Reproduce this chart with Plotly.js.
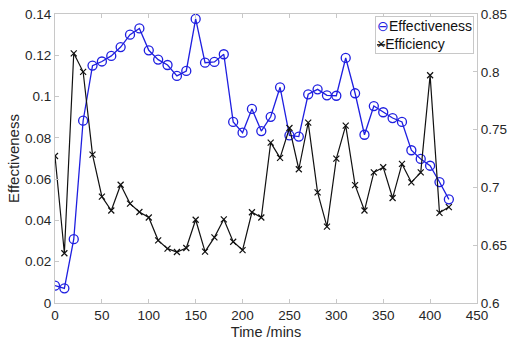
<!DOCTYPE html>
<html>
<head>
<meta charset="utf-8">
<script src="https://cdn.plot.ly/plotly-3.0.1.min.js"></script>
<style>html,body{margin:0;padding:0;background:#fff;}#chart{width:508px;height:344px;}</style>
</head>
<body>
<div id="chart"></div>
<script>
const timeMins = [0,10,20,30,40,50,60,70,80,90,100,110,120,130,140,150,160,170,180,190,200,210,220,230,240,250,260,270,280,290,300,310,320,330,340,350,360,370,380,390,400,410,420];
const effectiveness = [0.0084,0.0071,0.0309,0.0883,0.115,0.117,0.1197,0.124,0.130,0.133,0.1224,0.1179,0.1153,0.110,0.1124,0.1376,0.1164,0.1168,0.1205,0.0877,0.0825,0.094,0.0833,0.0902,0.1045,0.0812,0.0806,0.1011,0.1035,0.1006,0.1004,0.1187,0.1016,0.0815,0.0954,0.0924,0.0896,0.0877,0.074,0.0698,0.0665,0.0586,0.0502];
const efficiency = [0.7272,0.643,0.816,0.800,0.7283,0.692,0.680,0.7023,0.686,0.6787,0.674,0.6542,0.647,0.6441,0.6476,0.672,0.6444,0.6568,0.6724,0.653,0.6458,0.6785,0.674,0.7387,0.7256,0.7514,0.7157,0.756,0.6957,0.666,0.7249,0.7534,0.702,0.680,0.713,0.7174,0.6908,0.7203,0.7044,0.713,0.797,0.678,0.683];
const seriesNames = ["Effectiveness","Efficiency"];
const blue = "#1f1fe0", black = "#111";

const font = {family:"Liberation Sans, Arial, sans-serif", size:13.5, color:"#262626"};
const axisCommon = {showline:true, linecolor:"#c8c8c8", linewidth:1, ticks:"inside", ticklen:4, tickcolor:"#c8c8c8", showgrid:false, zeroline:false, tickfont:font};

const traces = [
  {x:timeMins, y:effectiveness, name:seriesNames[0], type:"scatter", mode:"lines+markers", showlegend:false,
   line:{color:blue, width:1.3}, marker:{symbol:"circle-open", size:9, color:blue, line:{width:1.3}}},
  {x:timeMins, y:efficiency, name:seriesNames[1], type:"scatter", mode:"lines+markers", yaxis:"y2", showlegend:false,
   line:{color:black, width:1.2}, marker:{symbol:"x-thin-open", size:6, color:black, line:{width:1.2, color:black}}}
];

const legendText = "<span style='color:" + blue + "'>⊖</span>" + seriesNames[0] +
                   "<br><span style='color:" + black + "'><s>×</s></span>" + seriesNames[1];

const layout = {
  width:508, height:344,
  margin:{l:55, r:31, t:14, b:41},
  paper_bgcolor:"#fff", plot_bgcolor:"#fff",
  font:font,
  showlegend:false,
  annotations:[{xref:"paper", yref:"paper", x:1, y:1, xanchor:"right", yanchor:"top", xshift:-3, yshift:-2,
    text:legendText, showarrow:false, align:"left", bgcolor:"#fff", bordercolor:"#c8c8c8", borderwidth:1, borderpad:1,
    font:{family:"Liberation Sans, Arial, sans-serif", size:14, color:"#111"}}],
  xaxis:Object.assign({}, axisCommon, {range:[0,450], dtick:50, tick0:0, mirror:"ticks",
         title:{text:"Time /mins", font:{family:"Liberation Sans, Arial, sans-serif", size:14.5, color:"#262626"}, standoff:4}}),
  yaxis:Object.assign({}, axisCommon, {range:[0,0.14], dtick:0.02, tick0:0,
         title:{text:"Effectiveness", font:{family:"Liberation Sans, Arial, sans-serif", size:15, color:"#262626"}, standoff:1}}),
  yaxis2:Object.assign({}, axisCommon, {range:[0.6,0.85], dtick:0.05, tick0:0.6, overlaying:"y", side:"right"})
};

Plotly.newPlot("chart", traces, layout, {displayModeBar:false, staticPlot:true});
</script>
</body>
</html>
